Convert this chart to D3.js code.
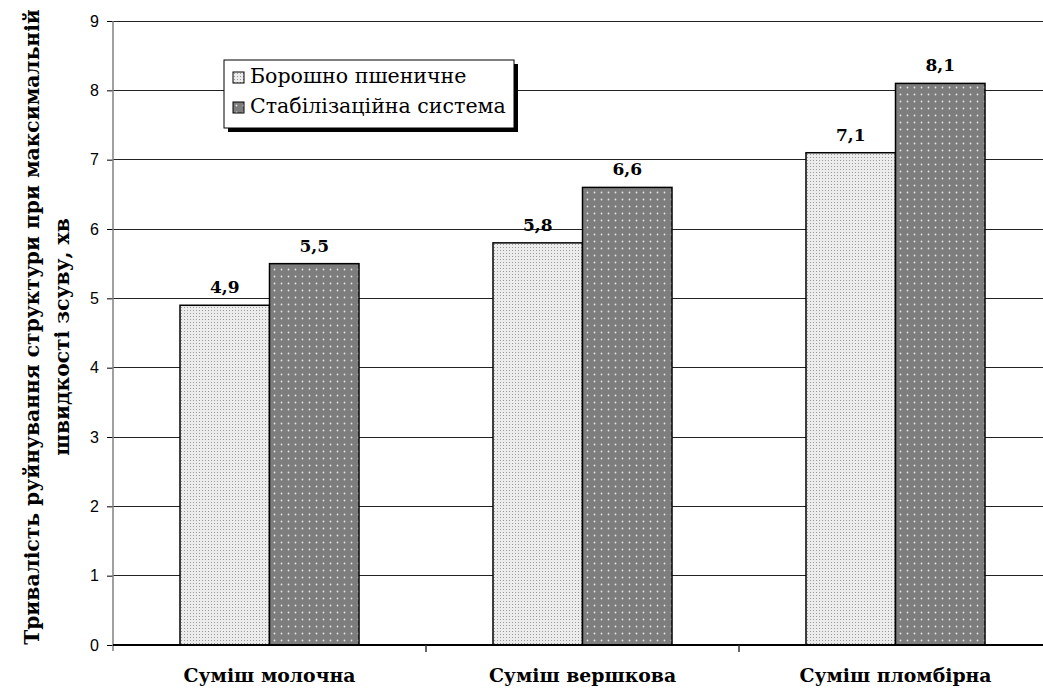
<!DOCTYPE html>
<html>
<head>
<meta charset="utf-8">
<script src="https://cdn.jsdelivr.net/npm/d3@7"></script>
<style>
  html, body { margin: 0; padding: 0; background: #fff; }
  svg { display: block; }
  .serif { font-family: "DejaVu Serif", serif; }
  .sans { font-family: "Liberation Sans", Arial, Helvetica, sans-serif; }
</style>
</head>
<body>
<svg id="chart" width="1043" height="688"></svg>
<script>
// Data
const categories = ["Суміш молочна", "Суміш вершкова", "Суміш пломбірна"];
const seriesNames = ["Борошно пшеничне", "Стабілізаційна система"];
const flourValues = [4.9, 5.8, 7.1];
const stabilizerValues = [5.5, 6.6, 8.1];
const yTicks = [0, 1, 2, 3, 4, 5, 6, 7, 8, 9];
const yTitleLines = ["Тривалість руйнування структури при максимальній", "швидкості зсуву, хв"];

const seriesValues = [flourValues, stabilizerValues];

const svg = d3.select("#chart");
const W = 1043, H = 688;
const plot = { left: 113, right: 1052, top: 21, bottom: 645 };

// Scale a text node's font size so its rendered length equals `width`
function fitSize(node, base, width) {
  const len = node.getComputedTextLength();
  return len > 0 ? base * width / len : base;
}

// Fill patterns for the two series
const defs = svg.append("defs");
const pLight = defs.append("pattern").attr("id", "patLight")
  .attr("patternUnits", "userSpaceOnUse").attr("width", 3).attr("height", 3);
pLight.append("rect").attr("width", 3).attr("height", 3).attr("fill", "#ececec");
pLight.append("rect").attr("x", 1).attr("y", 1).attr("width", 1).attr("height", 1).attr("fill", "#9a9a9a");

const pDark = defs.append("pattern").attr("id", "patDark")
  .attr("patternUnits", "userSpaceOnUse").attr("width", 7).attr("height", 7);
pDark.append("rect").attr("width", 7).attr("height", 7).attr("fill", "#7d7d7d");
pDark.append("circle").attr("cx", 3.5).attr("cy", 3.5).attr("r", 0.9).attr("fill", "#e6e6e6");

const fills = ["url(#patLight)", "url(#patDark)"];

defs.append("clipPath").attr("id", "clip")
  .append("rect").attr("x", 0).attr("y", 0).attr("width", W).attr("height", H);

// Scales
const y = d3.scaleLinear().domain([0, 9]).range([plot.bottom, plot.top]);
const step = (plot.right - plot.left) / categories.length;
const x0 = d3.scaleBand().domain(categories).range([plot.left, plot.right])
  .paddingInner(134 / step).paddingOuter(67 / step);
const x1 = d3.scaleBand().domain(d3.range(seriesNames.length)).range([0, x0.bandwidth()]);
const xCat = d3.scaleBand().domain(categories).range([plot.left, plot.right]);

const g = svg.append("g").attr("clip-path", "url(#clip)");

// Horizontal gridlines
g.append("g").selectAll("line").data(yTicks.filter(t => t > 0)).join("line")
  .attr("x1", plot.left).attr("x2", plot.right)
  .attr("y1", d => y(d)).attr("y2", d => y(d))
  .attr("stroke", "#222").attr("stroke-width", 1).attr("shape-rendering", "crispEdges");

// Bars
const groups = g.append("g").selectAll("g").data(categories).join("g")
  .attr("transform", d => `translate(${x0(d)},0)`);
groups.selectAll("rect")
  .data((c, i) => seriesValues.map((vals, s) => ({ s, v: vals[i] })))
  .join("rect")
  .attr("x", d => x1(d.s))
  .attr("y", d => y(d.v))
  .attr("width", x1.bandwidth())
  .attr("height", d => y(0) - y(d.v))
  .attr("fill", d => fills[d.s])
  .attr("stroke", "#000").attr("stroke-width", 1.5);

// Value labels
groups.selectAll("text")
  .data((c, i) => seriesValues.map((vals, s) => ({ s, v: vals[i] })))
  .join("text")
  .attr("class", "serif")
  .attr("x", d => x1(d.s) + x1.bandwidth() / 2)
  .attr("y", d => y(d.v) - 12)
  .attr("text-anchor", "middle")
  .attr("font-weight", "bold").attr("font-size", 17)
  .text(d => d.v.toFixed(1).replace(".", ","));

// Y axis
const yAxis = d3.axisLeft(y).tickValues(yTicks).tickSize(6).tickPadding(8).tickFormat(d3.format("d"));
const ya = svg.append("g").attr("transform", `translate(${plot.left},0)`).call(yAxis);
ya.attr("font-family", null).attr("font-size", null);
ya.select(".domain").remove();
ya.append("line").attr("x1", 0).attr("x2", 0).attr("y1", plot.top).attr("y2", plot.bottom + 6)
  .attr("stroke", "#808080").attr("stroke-width", 1.5);
ya.selectAll(".tick line").attr("stroke", "#000");
ya.selectAll(".tick text").attr("class", "sans")
  .attr("font-size", 16).attr("fill", "#000");

// X axis line and category separators
const xg = svg.append("g").attr("clip-path", "url(#clip)");
xg.append("line").attr("x1", plot.left).attr("x2", plot.right)
  .attr("y1", plot.bottom).attr("y2", plot.bottom)
  .attr("stroke", "#000").attr("stroke-width", 2);
xg.selectAll("line.sep").data(categories.slice(1)).join("line").attr("class", "sep")
  .attr("x1", d => xCat(d)).attr("x2", d => xCat(d))
  .attr("y1", plot.bottom).attr("y2", plot.bottom + 7)
  .attr("stroke", "#333").attr("stroke-width", 1.5);

// Category labels
const catText = svg.append("g").selectAll("text").data(categories).join("text")
  .attr("class", "serif")
  .attr("x", d => x0(d) + x0.bandwidth() / 2)
  .attr("y", 682)
  .attr("text-anchor", "middle")
  .attr("font-weight", "bold").attr("font-size", 17)
  .text(d => d);
const catSize = fitSize(catText.node(), 17, 172);
catText.attr("font-size", catSize);

// Y axis title (two centred lines)
const titleCenters = [327, 337];
const titleBaselines = [39, 69];
const yt = svg.append("g").selectAll("text").data(yTitleLines).join("text")
  .attr("class", "serif")
  .attr("transform", (d, i) => `translate(${titleBaselines[i]},${titleCenters[i]}) rotate(-90)`)
  .attr("text-anchor", "middle")
  .attr("font-weight", "bold").attr("font-size", 17)
  .text(d => d);
const titleSize = fitSize(yt.node(), 17, 636);
yt.attr("font-size", titleSize);

// Legend
const lg = svg.append("g").attr("transform", "translate(224,60)");
lg.append("rect").attr("x", 4).attr("y", 4).attr("width", 290).attr("height", 68).attr("fill", "#000");
lg.append("rect").attr("x", 0).attr("y", 0).attr("width", 290).attr("height", 68)
  .attr("fill", "#fff").attr("stroke", "#000").attr("stroke-width", 1);
const items = lg.selectAll("g.item").data(seriesNames).join("g").attr("class", "item")
  .attr("transform", (d, i) => `translate(9,${12 + i * 30})`);
items.append("rect").attr("width", 11).attr("height", 11)
  .attr("fill", (d, i) => fills[i]).attr("stroke", "#000").attr("stroke-width", 1);
const legText = items.append("text").attr("class", "serif").attr("x", 17).attr("y", 11)
  .attr("font-size", 17)
  .text(d => d);
const legSize = fitSize(legText.nodes()[1], 17, 256);
legText.attr("font-size", legSize);
</script>
</body>
</html>
